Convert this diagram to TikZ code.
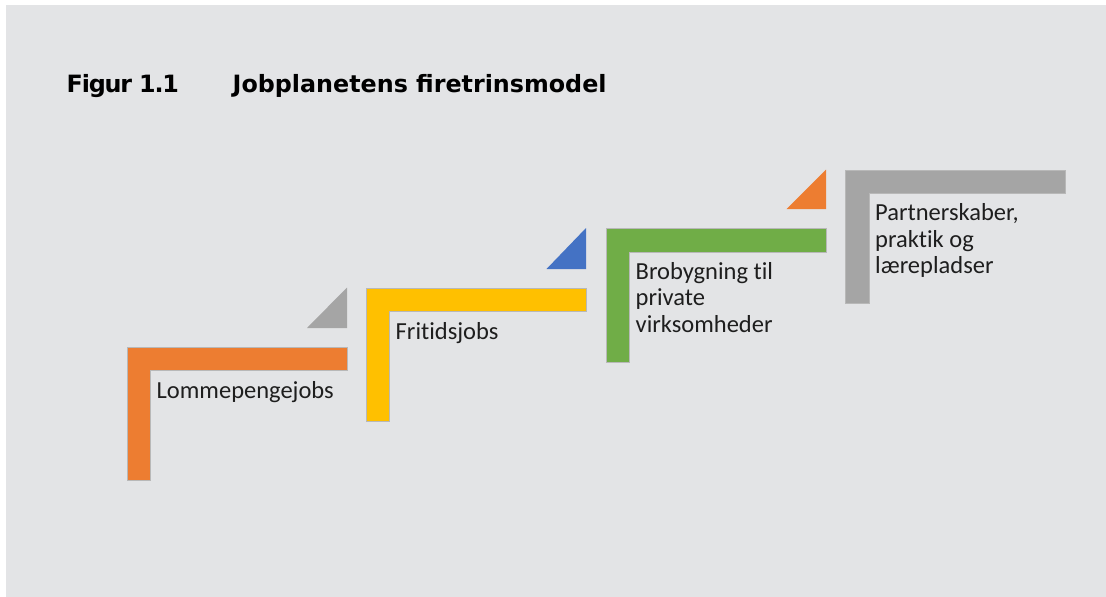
\documentclass[tikz,border=0pt]{standalone}
\usepackage{fontspec}
\setmainfont{Carlito}[Ligatures=NoCommon]
\newfontfamily\titlefont{DejaVu Sans}
\definecolor{bgc}{HTML}{E3E4E6}
\definecolor{cOrange}{HTML}{ED7D31}
\definecolor{cYellow}{HTML}{FFC000}
\definecolor{cBlue}{HTML}{4472C4}
\definecolor{cGreen}{HTML}{70AD47}
\definecolor{cGray}{HTML}{A5A5A5}
\definecolor{txt}{HTML}{1E1E1E}
\begin{document}
\begin{tikzpicture}[x=1pt,y=-1pt,
  stepshape/.style={fill=#1, draw=black!28, line width=0.35pt},
  tri/.style={fill=#1},
  lbl/.style={anchor=base west, inner sep=0pt, font=\fontsize{24.5}{26.5}\selectfont, text=txt, align=left},
  ttl/.style={anchor=base west, inner sep=0pt, font=\titlefont\bfseries\fontsize{23.8}{28}\selectfont, text=black}]
\useasboundingbox (0,0) rectangle (1106,597);
\fill[white] (0,0) rectangle (1106,597);
\fill[bgc] (6,5) rectangle (1106,597);
% title
\node[ttl] (fig) at (66.5,92.3) {\addfontfeature{LetterSpace=-5}Figur 1.1};
\node[ttl] (title) at (232.5,92.3) {Jobplanetens firetrinsmodel};
% steps: left x / top y / colour
\foreach \px/\py/\col in {127/347/cOrange, 366/288/cYellow, 606/228.5/cGreen, 845.5/170/cGray}{
  \path[stepshape=\col] (\px,\py) -- ++(220,0) -- ++(0,23.5) -- ++(-196.5,0) -- ++(0,110) -- ++(-23.5,0) -- cycle;
}
% small triangles
\fill[tri=cGray]   (307,328) -- (347,328) -- (347,287.5) -- cycle;
\fill[tri=cBlue]   (546.5,269) -- (586,269) -- (586,228) -- cycle;
\fill[tri=cOrange] (786.5,209) -- (826,209) -- (826,169.5) -- cycle;
% labels
\node[lbl] (l1) at (156.5,398.3) {Lommepengejobs};
\node[lbl] (l2) at (395.5,339) {Fritidsjobs};
\node[lbl] (l3) at (635.5,332.3) {Brobygning til\\private\\virksomheder};
\node[lbl] (l4) at (875,273.7) {Partnerskaber,\\praktik og\\lærepladser};
\end{tikzpicture}
\end{document}
